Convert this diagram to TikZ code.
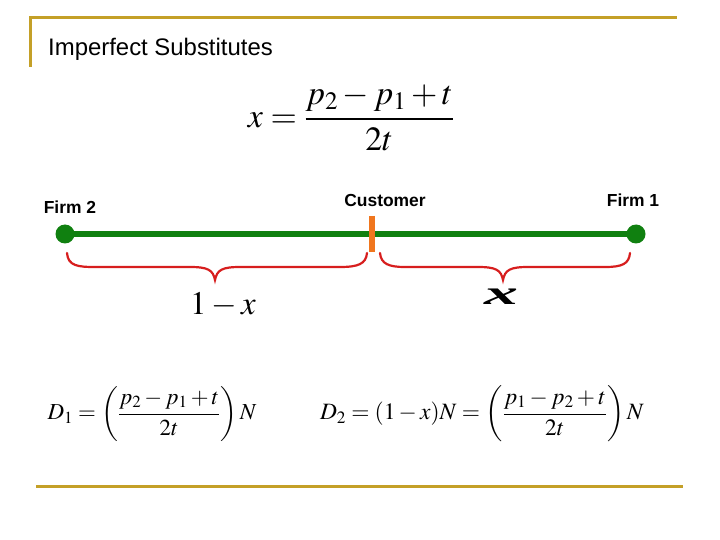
\documentclass[tikz,border=0pt]{standalone}
\usepackage{amsmath}
\usepackage{mathptmx}
\usepackage{fontspec}
\setmainfont{Liberation Sans}
\newfontfamily\serifm{Liberation Serif}
\definecolor{gold}{RGB}{196,160,40}
\definecolor{lgreen}{RGB}{16,128,16}
\definecolor{lorange}{RGB}{240,118,30}
\definecolor{lred}{RGB}{215,30,30}
\begin{document}
\begin{tikzpicture}[x=1bp,y=-1bp,
  rule/.style={draw=gold,line width=3bp},
  firmlbl/.style={font=\fontsize{17.5}{20}\selectfont\bfseries,inner sep=0pt},
  bracepath/.style={draw=lred,line width=2.2bp,line cap=round},
  mathlbl/.style={inner sep=0pt}]
\useasboundingbox (0,0) rectangle (720,540);
% frame rules
\coordinate (tl) at (30,18);
\coordinate (tr) at (677,18);
\coordinate (lb) at (30,67);
\draw[rule] (lb) -- (tl) -- (tr);
\coordinate (bl) at (36,486);
\coordinate (br) at (683,486);
\draw[rule] (bl) -- (br);
% title
\node[anchor=base west,inner sep=0pt,font=\fontsize{24}{28}\selectfont] (title) at (48,56) {Imperfect Substitutes};
% main equation
\node[mathlbl] (eqx) at (351,118) {\fontsize{34}{40}\selectfont$\displaystyle x=\frac{p_2-p_1+t}{2t}$};
% labels
\node[firmlbl] (f2) at (70,207) {Firm 2};
\node[firmlbl] (cu) at (385,200) {Customer};
\node[firmlbl] (f1) at (633,200) {Firm 1};
% line
\coordinate (a) at (65,234);
\coordinate (b) at (636,234);
\draw[lgreen,line width=6bp] (a) -- (b);
\fill[lgreen] (a) circle (9.5bp);
\fill[lgreen] (b) circle (9.5bp);
\coordinate (ct) at (372,216);
\coordinate (cb) at (372,252);
\draw[lorange,line width=5.5bp] (ct) -- (cb);
% braces
\coordinate (l1) at (67,253);
\coordinate (l2) at (367,253);
\coordinate (lt) at (215,280);
\coordinate (r1) at (380,253);
\coordinate (r2) at (630,253);
\coordinate (rt) at (503,280);
\draw[bracepath] (l1) .. controls (68,266) and (78,267) .. (95,267) -- (190,267)
  .. controls (208,267) and (213,270) .. (lt)
  .. controls (217,270) and (222,267) .. (240,267) -- (340,267)
  .. controls (358,267) and (366,264) .. (l2);
\draw[bracepath] (r1) .. controls (381,264) and (389,267) .. (405,267) -- (478,267)
  .. controls (496,267) and (501,270) .. (rt)
  .. controls (505,270) and (510,267) .. (528,267) -- (605,267)
  .. controls (622,267) and (629,264) .. (r2);
\node[mathlbl] (omx) at (223,305) {\fontsize{33}{38}\selectfont$1-x$};
\node[mathlbl] (xx) at (501,297) {\scalebox{2}[1]{\fontsize{34}{40}\selectfont\serifm\bfseries\itshape x}};
% demand equations
\node[mathlbl] (d1) at (152,414) {\fontsize{23}{28}\selectfont$\displaystyle D_1=\left(\frac{p_2-p_1+t}{2t}\right)N$};
\node[mathlbl] (d2) at (482,414) {\fontsize{23.5}{28}\selectfont$\displaystyle D_2=(1-x)N=\left(\frac{p_1-p_2+t}{2t}\right)N$};
\end{tikzpicture}
\end{document}
